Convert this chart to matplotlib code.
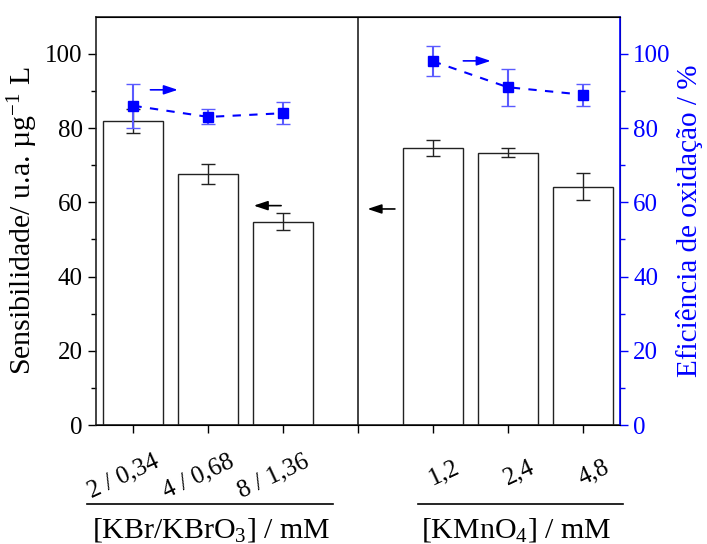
import matplotlib
matplotlib.use("Agg")
import matplotlib.pyplot as plt
import matplotlib.transforms as mtransforms

# data
kbr_labels = ["2 / 0,34", "4 / 0,68", "8 / 1,36"]
kmno4_labels = ["1,2", "2,4", "4,8"]
kbr_sens = [82, 67.7, 54.8]
kbr_sens_err = [3.2, 2.7, 2.2]
kmno4_sens = [74.7, 73.4, 64.2]
kmno4_sens_err = [2.2, 1.3, 3.7]
kbr_eff = [86, 83, 84]
kbr_eff_err = [6, 2, 3]
kmno4_eff = [98, 91, 89]
kmno4_eff_err = [4, 5, 3]

plt.rcParams['font.family'] = 'serif'
plt.rcParams['font.serif'] = ['Liberation Serif']
plt.rcParams['mathtext.fontset'] = 'custom'
plt.rcParams['mathtext.rm'] = 'Liberation Serif'
plt.rcParams['mathtext.it'] = 'Liberation Serif:italic'
plt.rcParams['font.size'] = 18

blue = "#0000ff"

fig = plt.figure(figsize=(7.07, 5.44), dpi=100)
ax = fig.add_axes([96 / 707, 1 - 425 / 544, 524 / 707, (425 - 16.7) / 544])
ax2 = ax.twinx()

x_kbr = [1, 2, 3]
x_kmno4 = [5, 6, 7]

# bars
ax.bar(x_kbr, kbr_sens, width=0.8, color="white", edgecolor="#222222", linewidth=1, zorder=2)
ax.bar(x_kmno4, kmno4_sens, width=0.8, color="white", edgecolor="#222222", linewidth=1, zorder=2)
ax.errorbar(x_kbr, kbr_sens, yerr=kbr_sens_err, fmt="none", ecolor="#222222", capsize=5, elinewidth=1, zorder=3)
ax.errorbar(x_kmno4, kmno4_sens, yerr=kmno4_sens_err, fmt="none", ecolor="#222222", capsize=5, elinewidth=1, zorder=3)

# efficiency points
for xs, ys, es in [(x_kbr, kbr_eff, kbr_eff_err), (x_kmno4, kmno4_eff, kmno4_eff_err)]:
    ax2.errorbar(xs, ys, yerr=es, fmt="none", ecolor="#5a5aff", capsize=5, elinewidth=1.5)
    ax2.plot(xs, ys, ls=(0, (4, 4)), color=blue, lw=1.5, marker="s", markersize=7.5)

ax.axvline(4, color="#222222", lw=1.2)

ax.set_xlim(0.5, 7.5)
ax.set_ylim(0, 110)
ax2.set_ylim(0, 110)

ax.set_xticks([1, 2, 3, 4, 5, 6, 7])
ax.set_xticklabels([])
# tick labels drawn as texts so they can be nudged like the original
base = mtransforms.blended_transform_factory(ax.transData, ax.transAxes)
for xs, labs, dx, dy in [(x_kbr, kbr_labels, -10, -25), (x_kmno4, kmno4_labels, 11, -31)]:
    off = mtransforms.ScaledTranslation(dx / 100, dy / 100, fig.dpi_scale_trans)
    for xv, lab in zip(xs, labs):
        ax.text(xv, 0, lab, transform=base + off, rotation=25, ha="center", va="top", fontsize=18)

ax.set_yticks([0, 20, 40, 60, 80, 100])
ax.set_yticks(range(10, 110, 20), minor=True)
ax2.set_yticks([0, 20, 40, 60, 80, 100])
ax2.set_yticks(range(10, 110, 20), minor=True)

ax.tick_params(axis="both", which="major", direction="out", length=6, width=1, labelsize=18)
ax.tick_params(axis="y", which="minor", direction="out", length=3.5, width=1)
ax2.tick_params(axis="y", which="major", direction="out", length=6, width=1, colors=blue, labelsize=18)
ax2.tick_params(axis="y", which="minor", direction="out", length=3.5, width=1, colors=blue)
ax2.spines["right"].set_color(blue)
ax2.spines["right"].set_linewidth(1.2)
for s in ["left", "top", "bottom"]:
    ax.spines[s].set_linewidth(1.2)
    ax.spines[s].set_color("#222222")
ax2.spines["left"].set_visible(False)

ax.set_ylabel(r"Sensibilidade/ u.a. µg$^{-1}$ L", fontsize=21.5, labelpad=4)
ax2.set_ylabel("Eficiência de oxidação / %", color=blue, fontsize=21, labelpad=4)

# arrows pointing to each axis
arw = dict(arrowstyle="-|>,head_length=0.6,head_width=0.2", lw=1.2, mutation_scale=14)
ax2.annotate("", xy=(1.63, 90.3), xytext=(1.19, 90.3), arrowprops=dict(color=blue, **arw))
ax2.annotate("", xy=(5.81, 98.1), xytext=(5.37, 98.1), arrowprops=dict(color=blue, **arw))
ax.annotate("", xy=(2.57, 59.1), xytext=(3.01, 59.1), arrowprops=dict(color="black", **arw))
ax.annotate("", xy=(4.09, 58.2), xytext=(4.53, 58.2), arrowprops=dict(color="black", **arw))

# group labels under the x axis
fig.add_artist(plt.Line2D([87 / 707, 333 / 707], [1 - 504 / 544] * 2, color="black", lw=1.2))
fig.add_artist(plt.Line2D([418 / 707, 623 / 707], [1 - 504 / 544] * 2, color="black", lw=1.2))
fig.text(211.5 / 707, 1 - 538 / 544, r"[KBr/KBrO$_3$] / mM", ha="center", va="baseline", fontsize=21.5)
fig.text(516 / 707, 1 - 538 / 544, r"[KMnO$_4$] / mM", ha="center", va="baseline", fontsize=21.5)

fig.savefig("out.png", dpi=100)
